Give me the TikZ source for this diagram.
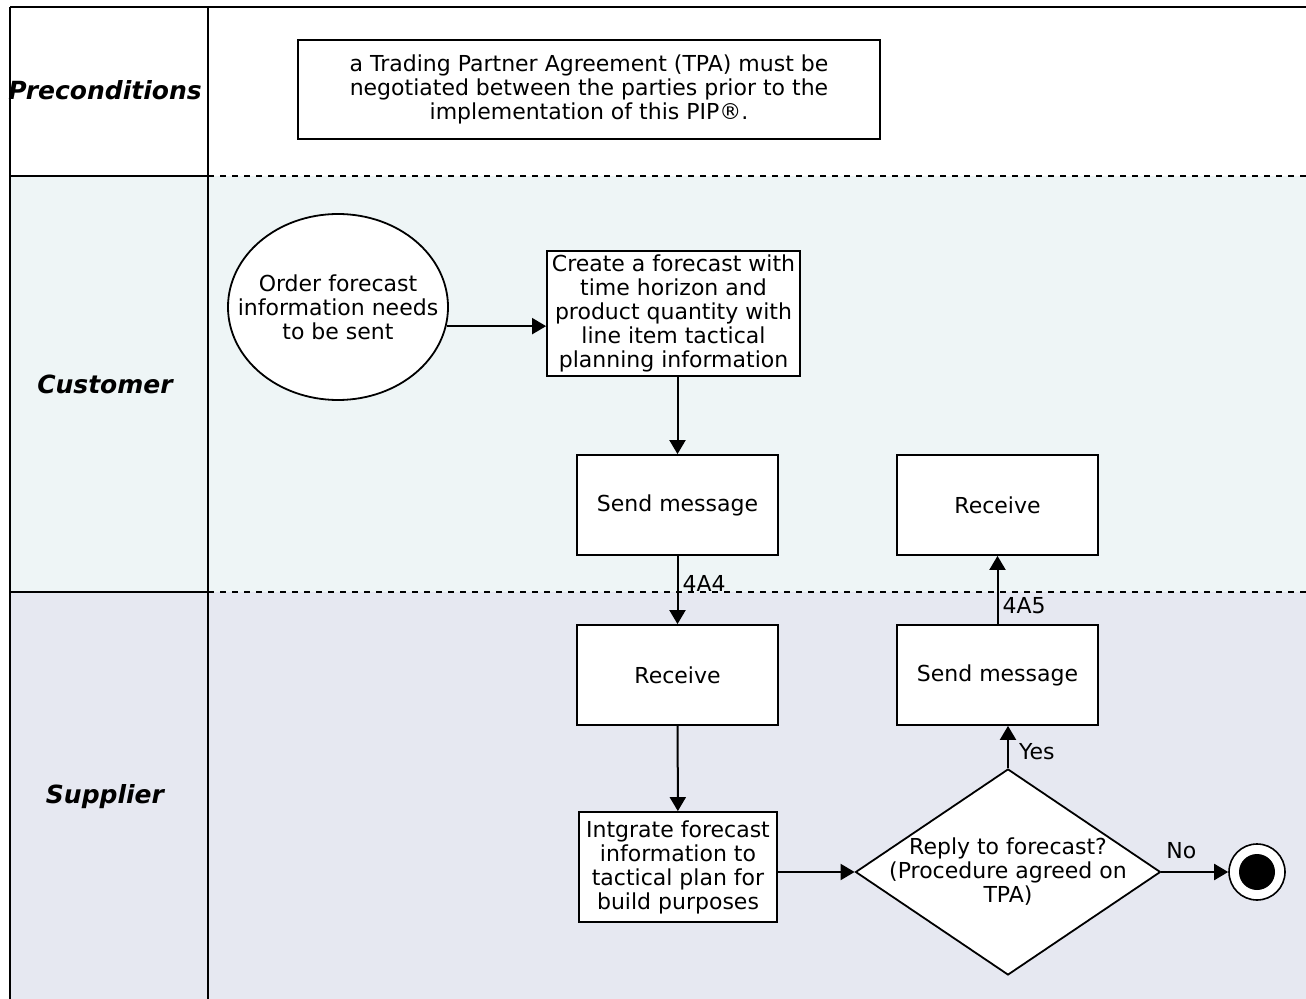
\documentclass[tikz,border=0pt]{standalone}
\usepackage{fontspec}
\setsansfont{DejaVu Sans}
\usepackage{xcolor}
\usepackage{tikz}
\usetikzlibrary{arrows.meta, positioning, shapes.geometric}
\definecolor{custlane}{HTML}{EEF5F6}
\definecolor{supplane}{HTML}{E6E8F1}
\tikzset{
  txt/.style   = {font=\sffamily\fontsize{11}{12}\selectfont, align=center},
  sbox/.style  = {rectangle, draw, fill=white, txt, inner sep=2pt,
                  line width=0.9pt},
  stepbox/.style  = {sbox, minimum width=100.5pt, minimum height=50pt},
  startev/.style  = {ellipse, draw, fill=white, inner sep=0pt,
                     line width=0.9pt, minimum width=110pt, minimum height=93pt},
  decide/.style   = {diamond, draw, fill=white, inner sep=0pt,
                     line width=0.9pt, minimum width=152.5pt, minimum height=103pt},
  endev/.style    = {circle, draw, fill=white, inner sep=0pt,
                     line width=0.8pt, minimum size=28pt},
  lane/.style  = {font=\sffamily\bfseries\itshape\fontsize{12.5}{14}\selectfont},
  frame/.style = {line width=1pt},
  sep/.style   = {line width=0.9pt, dash pattern=on 3pt off 3pt},
  arr/.style   = {-{Triangle[length=7pt,width=8pt]}, line width=1pt},
  lbl/.style   = {txt, inner sep=2pt},
}
\begin{document}
\begin{tikzpicture}[x=0.5pt, y=-0.5pt]
  \useasboundingbox (0,0) rectangle (1306,999);

  % Layer 1 - swim lanes
  \fill[white]    (10,7)   rectangle (1306,176);
  \fill[custlane] (10,176) rectangle (1306,592);
  \fill[supplane] (10,592) rectangle (1306,999);
  \draw[frame] (10,7) -- (1306,7);
  \draw[frame] (10,7) -- (10,999);
  \draw[frame] (208,7) -- (208,999);
  \draw[frame] (10,176) -- (208,176);
  \draw[frame] (10,592) -- (208,592);
  \draw[sep] (208,176) -- (1306,176);
  \draw[sep] (208,592) -- (1306,592);

  \node[lane] (lpre)  at (105,90)  {Preconditions};
  \node[lane] (lcust) at (105,384) {Customer};
  \node[lane] (lsupp) at (105,797) {Supplier};

  % Layer 2 - activities
  \node[sbox, minimum width=291pt, minimum height=49.5pt] (tpa) at (589,89.5)
    {a Trading Partner Agreement (TPA) must be\\negotiated between the parties prior to the\\implementation of this PIP®.};
  \node[startev] (order) at (338,307) {};
  \node[txt] (ordertxt) at (order.center)
    {Order forecast\\information needs\\to be sent};
  \node[sbox, minimum width=126.5pt, minimum height=61.5pt] (create) at (673.5,313.5)
    {Create a forecast with\\time horizon and\\product quantity with\\line item tactical\\planning information};
  \node[stepbox] (sendc) at (677.5,505) {Send message};
  \node[stepbox] (recvc) at (997.5,505) {Receive};
  \node[stepbox] (recvs) at (677.5,675) {Receive};
  \node[stepbox] (sends) at (997.5,675) {Send message};
  \node[sbox, minimum width=99pt, minimum height=55pt] (integ) at (678,867)
    {Intgrate forecast\\information to\\tactical plan for\\build purposes};
  \node[decide] (dec) at (1008,872) {};
  \node[txt] (dectxt) at (dec.center)
    {Reply to forecast?\\(Procedure agreed on\\TPA)};
  \node[endev] (fin) at (1257,872) {};
  \fill (fin.center) circle (9pt);

  % Layer 3 - flows
  \draw[arr] (order.-10) -- (order.-10 -| create.west);
  \draw[arr] (create.south -| sendc.north) -- (sendc.north);
  \draw[arr] (sendc) -- (recvs) node[lbl, pos=0.4, right] {4A4};
  \draw[arr] (sends) -- (recvc) node[lbl, pos=0.27, right] {4A5};
  \draw[arr] (recvs) -- (integ);
  \draw[arr] (integ.east |- dec.west) -- (dec.west);
  \draw[arr] (dec.north) -- (dec.north |- sends.south)
    node[lbl, pos=0.4, right=3pt] {Yes};
  \draw[arr] (dec.east) -- (fin.west) node[lbl, pos=0.3, above=4pt] {No};
\end{tikzpicture}
\end{document}
